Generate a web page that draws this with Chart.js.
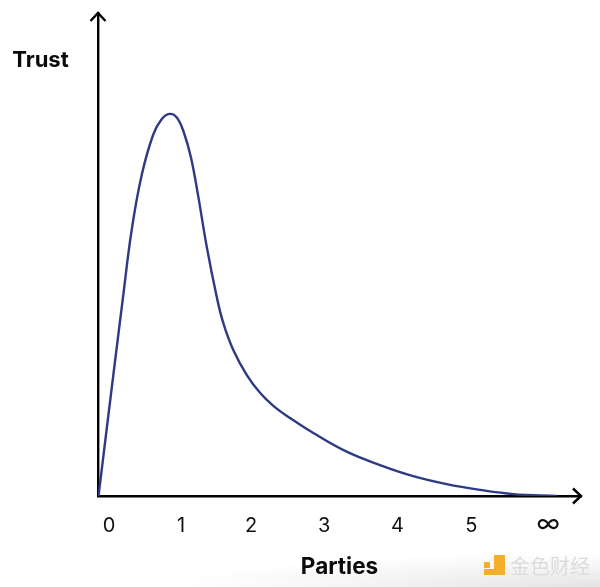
<!DOCTYPE html>
<html>
<head>
<meta charset="utf-8">
<style>
html,body{margin:0;padding:0;background:#fff}
body{width:600px;height:587px;overflow:hidden;background:radial-gradient(ellipse 430px 34px at 100% 100%,#e4e4e4 0%,#f4f4f4 55%,#ffffff 100%)}
canvas{display:block}
</style>
<script src="https://cdn.jsdelivr.net/npm/chart.js@4"></script>
</head>
<body>
<canvas id="c" width="600" height="587"></canvas>
<script>
const tickLabels = ['0','1','2','3','4','5','∞'];
const tickValues = [0,0.984,1.94,2.94,3.94,4.95,6];
const xTitle = 'Parties';
const yTitle = 'Trust';
const watermark = '金色财经';
const parties = [-0.143,0.014,0.187,0.310,0.447,0.605,0.724,0.827,0.929,1.025,1.120,1.216,1.335,1.471,1.561,1.698,1.881,2.063,2.245,2.473,2.791,3.247,3.702,4.157,4.613,5.068,5.523,6.116];
const trust = [0,24.6,51.3,69.6,84.0,94.6,98.7,100,99.0,95.0,88.6,78.8,65.3,52.2,45.3,38.2,31.7,27.0,23.6,20.4,16.5,11.6,8.1,5.2,3.1,1.6,0.5,0];

const decorations = {
  id:'decorations',
  afterDraw(chart){
    const {ctx, chartArea:a} = chart;
    ctx.save();
    ctx.strokeStyle='#000'; ctx.lineWidth=2.4; ctx.lineCap='butt'; ctx.lineJoin='miter';
    ctx.beginPath(); ctx.moveTo(a.left-7.5,a.top+8); ctx.lineTo(a.left,a.top); ctx.lineTo(a.left+7.5,a.top+8); ctx.stroke();
    ctx.beginPath(); ctx.moveTo(a.right-8,a.bottom-7.5); ctx.lineTo(a.right,a.bottom); ctx.lineTo(a.right-8,a.bottom+7.5); ctx.stroke();
    ctx.fillStyle='#0a0a0a'; ctx.font='700 22px Inter'; ctx.textAlign='center'; ctx.textBaseline='alphabetic';
    ctx.fillText(yTitle,40.5,67);
    ctx.fillStyle='#f2b02a';
    ctx.fillRect(484,569,21,6); ctx.fillRect(494,555,11,20); ctx.fillRect(484,562,6,6);
    ctx.fillStyle='#dcdcdc'; ctx.font='20px "Noto Sans CJK SC"'; ctx.textAlign='left'; ctx.textBaseline='middle';
    ctx.fillText(watermark,510,566);
    ctx.restore();
  }
};

new Chart(document.getElementById('c'),{
  type:'line',
  data:{datasets:[{
    data:parties.map((x,i)=>({x,y:trust[i]})),
    borderColor:'#2f3a85', borderWidth:2.4, pointRadius:0, fill:false,
    tension:0.4
  }]},
  plugins:[decorations],
  options:{
    responsive:false, animation:false,
    layout:{padding:{left:0,right:19,top:13,bottom:0}},
    plugins:{legend:{display:false},tooltip:{enabled:false}},
    scales:{
      x:{
        type:'linear', min:-0.15, max:6.448,
        grid:{display:false,drawTicks:false},
        border:{display:true,color:'#000',width:2.4},
        afterBuildTicks(s){s.ticks=tickValues.map(value=>({value}));},
        ticks:{autoSkip:false,maxRotation:0,padding:18,color:'#111',
          font:(c)=>c.index===6?{family:'Inter',size:25,lineHeight:0.8}:{family:'Inter',size:20},
          callback:(v)=>tickLabels[tickValues.indexOf(v)]},
        title:{display:true,text:xTitle,color:'#0a0a0a',font:{family:'Inter',size:22.5,weight:'700'},padding:{top:14,bottom:6}},
        afterFit(s){s.height=91;}
      },
      y:{
        type:'linear', min:0, max:126.4,
        grid:{display:false,drawTicks:false},
        border:{display:true,color:'#000',width:2.4},
        ticks:{display:false},
        afterFit(s){s.width=98;}
      }
    }
  }
});
</script>
</body>
</html>
